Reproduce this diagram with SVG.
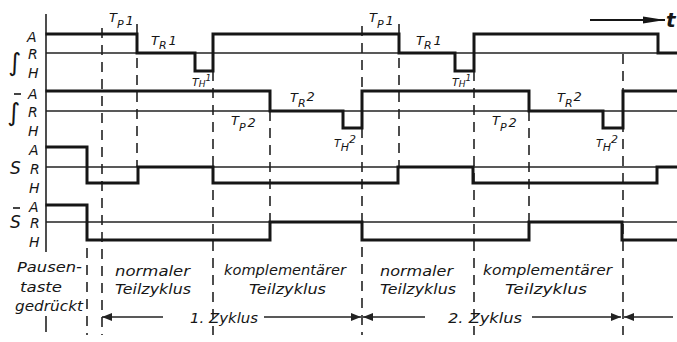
<svg xmlns="http://www.w3.org/2000/svg" width="677" height="342" viewBox="0 0 677 342">
<style>
.bg{fill:#fff}
.sig{fill:none;stroke:#161616;stroke-width:3;stroke-linejoin:miter;stroke-linecap:square}
.ref{fill:none;stroke:#222;stroke-width:1.3}
.dash{fill:none;stroke:#222;stroke-width:1.6;stroke-dasharray:10 7}
.ax{fill:none;stroke:#222;stroke-width:1.6}
.arr{fill:none;stroke:#222;stroke-width:1.4}
.ovl{fill:none;stroke:#161616;stroke-width:1.6}
text{font-family:"DejaVu Sans","Liberation Sans",sans-serif;font-style:italic;fill:#161616}
.lv{font-size:14px}
.sym{font-size:25px;font-style:normal}
.ess{font-size:17px;font-style:italic}
.lab{font-size:14px}
.tl{font-size:13px}
.sub{font-size:11px}
.th{font-size:11px}
.ths{font-size:9px}
</style>
<defs>
<marker id="ah" markerUnits="userSpaceOnUse" markerWidth="10" markerHeight="8" refX="10" refY="4" orient="auto-start-reverse">
<path d="M0,0 L10,4 L0,8 Z" fill="#222"/>
</marker>
<marker id="ahT" markerUnits="userSpaceOnUse" markerWidth="22" markerHeight="8" refX="22" refY="4" orient="auto">
<path d="M0,0.5 L22,4 L0,7.5 Z" fill="#161616"/>
</marker>
</defs>
<rect class="bg" width="677" height="342"/>

<g id="axis">
<line class="ax" x1="46" y1="14" x2="46" y2="252"/>
<line class="ax" x1="46" y1="316" x2="46" y2="332"/>
</g>

<g id="reference-lines">
<line class="ref" x1="46" y1="53" x2="677" y2="53"/>
<line class="ref" x1="46" y1="111" x2="677" y2="111"/>
<line class="ref" x1="46" y1="167" x2="677" y2="167"/>
<line class="ref" x1="46" y1="222" x2="677" y2="222"/>
</g>

<g id="connectors">
<line class="dash" x1="87" y1="248" x2="87" y2="335"/>
<line class="dash" x1="102" y1="28" x2="102" y2="335"/>
<line class="dash" x1="137" y1="24" x2="137" y2="167"/>
<line class="dash" x1="213" y1="71" x2="213" y2="335"/>
<line class="dash" x1="270" y1="111" x2="270" y2="222"/>
<line class="dash" x1="362" y1="26" x2="362" y2="335"/>
<line class="dash" x1="399" y1="24" x2="399" y2="167"/>
<line class="dash" x1="474" y1="71" x2="474" y2="335"/>
<line class="dash" x1="529" y1="111" x2="529" y2="222"/>
<line class="dash" x1="623" y1="54" x2="623" y2="335"/>
</g>

<g id="signals">
<path id="sig-int" class="sig" d="M47,34 H137 V53 H195 V71 H213 V34 H399 V53 H455 V71 H474 V34 H658 V53 H677"/>
<path id="sig-intbar" class="sig" d="M47,91 H270 V111 H343 V128 H362 V91 H529 V111 H603 V128 H623 V91 H677"/>
<path id="sig-S" class="sig" d="M47,147 H87 V183 H138 V167 H213 V183 H398 V167 H473 V183 H657 V167 H677"/>
<path id="sig-Sbar" class="sig" d="M47,205 H87 V240 H270 V222 H362 V240 H529 V222 H622 V240 H677"/>
</g>

<g id="row-labels">
<text class="sym" x="8" y="71">∫</text>
<text class="lv" x="27" y="42">A</text>
<text class="lv" x="28" y="59">R</text>
<text class="lv" x="28" y="78">H</text>

<line class="ovl" x1="14" y1="94" x2="21" y2="94"/>
<text class="sym" x="7" y="121">∫</text>
<text class="lv" x="28" y="99">A</text>
<text class="lv" x="28" y="117">R</text>
<text class="lv" x="28" y="136">H</text>

<text class="lv" x="29" y="155">A</text>
<text class="ess" x="10" y="174">S</text>
<text class="lv" x="30" y="174">R</text>
<text class="lv" x="29" y="193">H</text>

<line class="ovl" x1="13" y1="208" x2="20" y2="208"/>
<text class="lv" x="29" y="212">A</text>
<text class="ess" x="10" y="228">S</text>
<text class="lv" x="30" y="228">R</text>
<text class="lv" x="29" y="247">H</text>
</g>

<g id="time-labels">
<text class="tl" x="109" y="22">T<tspan class="sub" dy="6">P</tspan><tspan dx="2" dy="-3">1</tspan></text>
<text class="tl" x="151" y="45">T<tspan class="sub" dy="4">R</tspan><tspan dx="2" dy="-4">1</tspan></text>
<text class="th" x="192" y="86">T<tspan class="ths" dy="1">H</tspan><tspan class="ths" dy="-6">1</tspan></text>
<text class="tl" x="231" y="125">T<tspan class="sub" dy="6">P</tspan><tspan dx="2" dy="-4">2</tspan></text>
<text class="tl" x="290" y="102">T<tspan class="sub" dy="5">R</tspan><tspan dx="1" dy="-6">2</tspan></text>
<text class="th" x="334" y="147">T<tspan class="sub" dy="4">H</tspan><tspan class="sub" dy="-8">2</tspan></text>

<text class="tl" x="369" y="22">T<tspan class="sub" dy="6">P</tspan><tspan dx="2" dy="-3">1</tspan></text>
<text class="tl" x="416" y="45">T<tspan class="sub" dy="4">R</tspan><tspan dx="2" dy="-4">1</tspan></text>
<text class="th" x="452" y="86">T<tspan class="ths" dy="1">H</tspan><tspan class="ths" dy="-6">1</tspan></text>
<text class="tl" x="492" y="125">T<tspan class="sub" dy="6">P</tspan><tspan dx="2" dy="-4">2</tspan></text>
<text class="tl" x="557" y="102">T<tspan class="sub" dy="5">R</tspan><tspan dx="1" dy="-6">2</tspan></text>
<text class="th" x="596" y="147">T<tspan class="sub" dy="4">H</tspan><tspan class="sub" dy="-8">2</tspan></text>
</g>

<g id="time-arrow">
<line x1="590" y1="20" x2="665" y2="20" stroke="#161616" stroke-width="2" marker-end="url(#ahT)"/>
<text x="666" y="27" style="font-size:20px;font-weight:bold">t</text>
</g>

<g id="phase-labels">
<text class="lab" x="17" y="272" textLength="65" lengthAdjust="spacingAndGlyphs">Pausen-</text>
<text class="lab" x="20" y="292" textLength="42" lengthAdjust="spacingAndGlyphs">taste</text>
<text class="lab" x="15" y="311" textLength="68" lengthAdjust="spacingAndGlyphs">gedrückt</text>
<text class="lab" x="115" y="276" textLength="75" lengthAdjust="spacingAndGlyphs">normaler</text>
<text class="lab" x="115" y="294" textLength="76" lengthAdjust="spacingAndGlyphs">Teilzyklus</text>
<text class="lab" x="224" y="275" textLength="122" lengthAdjust="spacingAndGlyphs">komplementärer</text>
<text class="lab" x="249" y="294" textLength="77" lengthAdjust="spacingAndGlyphs">Teilzyklus</text>
<text class="lab" x="380" y="276" textLength="73" lengthAdjust="spacingAndGlyphs">normaler</text>
<text class="lab" x="380" y="294" textLength="76" lengthAdjust="spacingAndGlyphs">Teilzyklus</text>
<text class="lab" x="483" y="275" textLength="129" lengthAdjust="spacingAndGlyphs">komplementärer</text>
<text class="lab" x="505" y="294" textLength="82" lengthAdjust="spacingAndGlyphs">Teilzyklus</text>
</g>

<g id="cycles">
<line class="arr" x1="102" y1="317" x2="163" y2="317" marker-start="url(#ah)"/>
<text class="lab" x="190" y="323" textLength="68" lengthAdjust="spacingAndGlyphs">1. Zyklus</text>
<line class="arr" x1="264" y1="317" x2="361" y2="317" marker-end="url(#ah)"/>
<line class="arr" x1="363" y1="317" x2="425" y2="317" marker-start="url(#ah)"/>
<text class="lab" x="448" y="323" textLength="74" lengthAdjust="spacingAndGlyphs">2. Zyklus</text>
<line class="arr" x1="532" y1="317" x2="621" y2="317" marker-end="url(#ah)"/>
<line class="arr" x1="624" y1="317" x2="673" y2="317" marker-start="url(#ah)"/>
</g>
</svg>
